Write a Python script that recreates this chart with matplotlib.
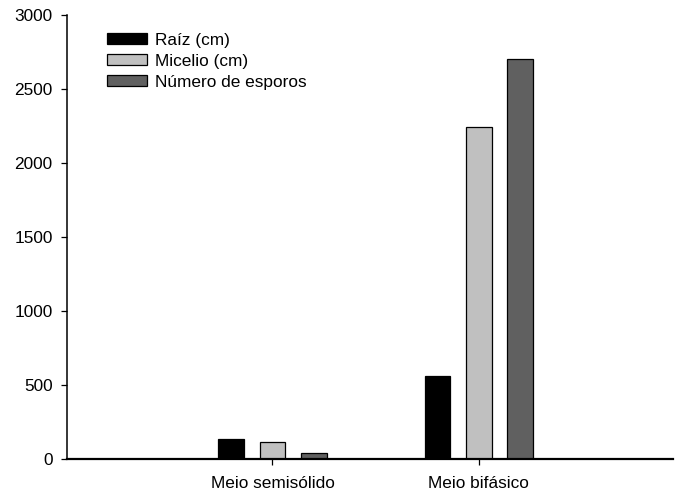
import numpy as np
import matplotlib
matplotlib.use("Agg")
import matplotlib.pyplot as plt

plt.rcParams['font.family'] = ['Liberation Sans', 'DejaVu Sans']

categorias = ["Meio semisólido", "Meio bifásico"]
series = ["Raíz (cm)", "Micelio (cm)", "Número de esporos"]
raiz = [130, 560]
micelio = [110, 2240]
esporos = [38, 2705]
cores = ["#000000", "#c0c0c0", "#606060"]

fig = plt.figure(figsize=(6.75, 4.97), dpi=100)
ax = fig.add_axes([67/675, 1-458.7/497, (673-67)/675, (458.7-15)/497])

x = np.arange(1, len(categorias)+1)
w = 0.124
offs = [-0.2, 0.0, 0.2]
for vals, nome, cor, d in zip([raiz, micelio, esporos], series, cores, offs):
    ax.bar(x+d, vals, w, color=cor, edgecolor="black", linewidth=0.9, label=nome)

ax.set_xlim(0.005, 2.94)
ax.set_ylim(0, 3000)
ax.set_yticks(np.arange(0, 3001, 500))
ax.set_xticks(x)
ax.set_xticklabels(categorias)
ax.spines['top'].set_visible(False)
ax.spines['right'].set_visible(False)
ax.spines['left'].set_linewidth(1.1)
ax.spines['bottom'].set_linewidth(1.6)
ax.tick_params(axis='both', labelsize=12.4, length=4.3, width=0.9, direction='out')
ax.tick_params(axis='y', pad=6)
ax.tick_params(axis='x', pad=8)

ax.legend(loc='upper left', bbox_to_anchor=(0.055, 0.975), frameon=False,
          fontsize=12.4, handlelength=2.3, handleheight=0.6,
          handletextpad=0.45, labelspacing=0.35, borderaxespad=0)

fig.savefig("out.png", dpi=100)
